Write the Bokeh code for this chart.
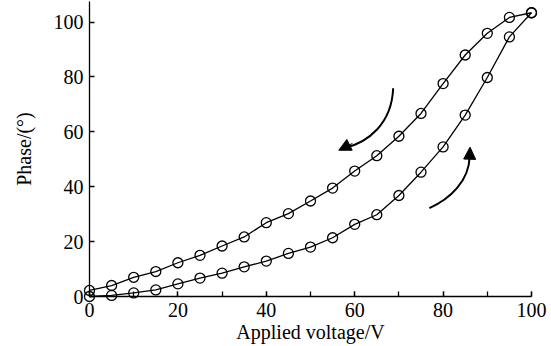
from bokeh.plotting import figure
from bokeh.models import Range1d, SingleIntervalTicker, Arrow, NormalHead
from bokeh.embed import file_html
from bokeh.resources import INLINE

# Data
voltage = [0, 5, 10, 15, 20, 25, 30, 35, 40, 45, 50, 55, 60, 65, 70, 75, 80, 85, 90, 95, 100]
phase_up = [0, 0.4, 1.3, 2.4, 4.6, 6.7, 8.5, 10.8, 12.9, 15.7, 18.0, 21.4, 26.3, 29.8,
            36.8, 45.3, 54.5, 66.1, 79.8, 94.6, 103.4]
phase_down = [2.2, 4.0, 7.0, 9.1, 12.3, 15.0, 18.4, 21.7, 26.9, 30.2, 34.8, 39.5, 45.7,
              51.3, 58.4, 66.7, 77.6, 88.0, 95.9, 101.7, 103.4]

x_ticks = [0, 20, 40, 60, 80, 100]
y_ticks = [0, 20, 40, 60, 80, 100]

# Curved direction arrows (data coords): start, control 1, control 2, end
arrow_down = dict(x0=68.7, y0=75.9, cx0=68.4, cy0=63.0, cx1=63.0, cy1=56.0, x1=57.5, y1=54.0,
                  hx0=59.5, hy0=55.8, hx1=56.4, hy1=53.3)
arrow_up = dict(x0=76.9, y0=32.2, cx0=81.5, cy0=35.5, cx1=85.9, cy1=42.0, x1=86.0, y1=51.0,
                hx0=86.0, hy0=49.5, hx1=86.1, hy1=54.4)

FONT = "Liberation Serif"

p = figure(width=551, height=346, output_backend="svg", toolbar_location=None,
           x_range=Range1d(0, 100), y_range=Range1d(0, 107.5),
           min_border_left=89, min_border_right=20, min_border_top=1, min_border_bottom=50)
p.outline_line_color = None
p.grid.visible = False
p.background_fill_color = "white"
p.border_fill_color = "white"

# Axes
p.xaxis.ticker = SingleIntervalTicker(interval=20, num_minor_ticks=2)
p.yaxis.ticker = SingleIntervalTicker(interval=20, num_minor_ticks=0)
for ax in (p.xaxis[0], p.yaxis[0]):
    ax.axis_line_color = "black"
    ax.axis_line_width = 1.3
    ax.major_tick_in = 5
    ax.major_tick_out = 0
    ax.minor_tick_in = 5
    ax.minor_tick_out = 0
    ax.major_tick_line_width = 1.3
    ax.minor_tick_line_width = 1.3
    ax.major_tick_line_color = "black"
    ax.minor_tick_line_color = "black"
    ax.major_label_text_font = FONT
    ax.major_label_text_font_size = "20px"
    ax.major_label_text_color = "black"
    ax.axis_label_text_font = FONT
    ax.axis_label_text_font_size = "20px"
    ax.axis_label_text_font_style = "normal"
    ax.axis_label_text_color = "black"

p.xaxis.axis_label = "Applied voltage/V"
p.yaxis.axis_label = "Phase/(°)"
p.xaxis.major_label_standoff = 6
p.xaxis.axis_label_standoff = 1
p.yaxis.major_label_standoff = 6
p.yaxis.axis_label_standoff = 16
p.yaxis.major_label_orientation = "horizontal"
p.yaxis.bounds = (0, 107.5)

# Curves
for ys in (phase_up, phase_down):
    l = p.line(voltage, ys, line_color="black", line_width=1.3)
    s = p.scatter(voltage, ys, size=10, marker="circle", fill_color=None,
                  line_color="black", line_width=1.3)
    l.level = "overlay"
    s.level = "overlay"

# Arrows
for a in (arrow_down, arrow_up):
    b = p.bezier(x0=[a["x0"]], y0=[a["y0"]], x1=[a["x1"]], y1=[a["y1"]],
                 cx0=[a["cx0"]], cy0=[a["cy0"]], cx1=[a["cx1"]], cy1=[a["cy1"]],
                 line_color="black", line_width=2)
    p.add_layout(Arrow(x_start=a["hx0"], y_start=a["hy0"], x_end=a["hx1"], y_end=a["hy1"],
                       line_color="black", line_width=1,
                       end=NormalHead(size=12, fill_color="black", line_color="black", line_width=1)))

open("out.html", "w").write(file_html(p, INLINE))
